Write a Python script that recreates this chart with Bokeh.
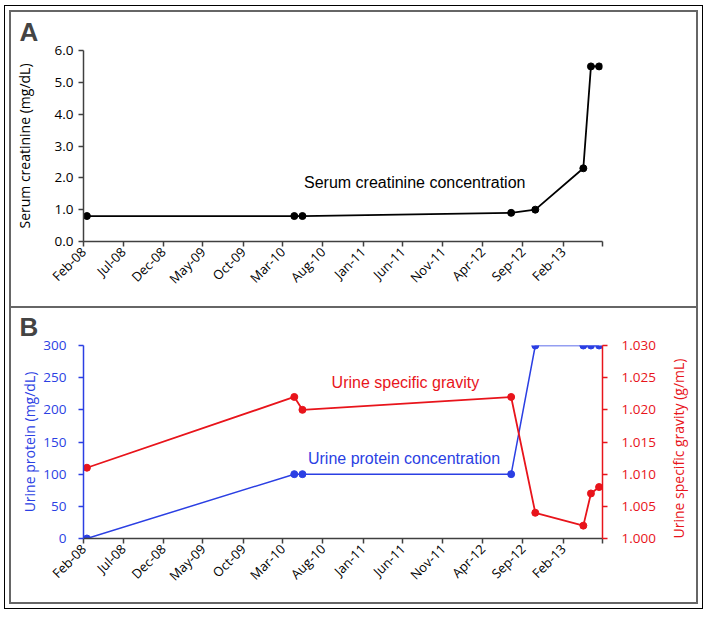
from datetime import datetime
from math import pi
from bokeh.plotting import figure
from bokeh.models import (Range1d, LinearAxis, FixedTicker, NumeralTickFormatter, Label)
from bokeh.layouts import column
from bokeh.embed import file_html
from bokeh.resources import INLINE

# ---------------- data ----------------
dates = ["2008-02-14", "2010-04-14", "2010-05-15", "2012-07-18",
         "2012-10-18", "2013-04-19", "2013-05-18", "2013-06-18"]
creatinine = [0.8, 0.8, 0.8, 0.9, 1.0, 2.3, 5.5, 5.5]
urine_protein = [0, 100, 100, 100, 300, 300, 300, 300]
specific_gravity = [1.011, 1.022, 1.020, 1.022, 1.004, 1.002, 1.007, 1.008]

tick_dates = ["2008-02-01", "2008-07-01", "2008-12-01", "2009-05-01", "2009-10-01",
              "2010-03-01", "2010-08-01", "2011-01-01", "2011-06-01", "2011-11-01",
              "2012-04-01", "2012-09-01", "2013-02-01", "2013-07-01"]
tick_labels = ["Feb-08", "Jul-08", "Dec-08", "May-09", "Oct-09", "Mar-10", "Aug-10",
               "Jan-11", "Jun-11", "Nov-11", "Apr-12", "Sep-12", "Feb-13", ""]
creat_ticks = [0, 1, 2, 3, 4, 5, 6]
protein_ticks = [0, 50, 100, 150, 200, 250, 300]
sg_ticks = [1.000, 1.005, 1.010, 1.015, 1.020, 1.025, 1.030]

BLUE = "#2b3fe3"
RED = "#e8141b"
AXIS = "#404040"
FONT = "Open Sans"


def ms(s):
    d = datetime.strptime(s, "%Y-%m-%d")
    return (d - datetime(1970, 1, 1)).total_seconds() * 1000.0


x = [datetime.strptime(d, "%Y-%m-%d") for d in dates]
tick_ms = [ms(t) for t in tick_dates]
overrides = {t: l for t, l in zip(tick_ms, tick_labels)}
x_start, x_end = tick_ms[0], tick_ms[-1]

W = 689


def base_fig(h, top, bottom, letter, title_standoff):
    p = figure(width=W, height=h, x_axis_type="datetime", output_backend="svg",
               toolbar_location=None, x_range=Range1d(x_start, x_end),
               min_border_left=69, min_border_right=88, min_border_top=top,
               min_border_bottom=bottom)
    p.grid.visible = False
    p.outline_line_color = None
    p.background_fill_color = "white"
    p.border_fill_color = "white"
    p.title.text = letter
    p.title.text_font = "Liberation Sans"
    p.title.text_font_size = "26px"
    p.title.text_font_style = "bold"
    p.title.align = "left"
    p.title.vertical_align = "top"
    p.title.offset = -64
    p.title.standoff = title_standoff
    xa = p.xaxis[0]
    xa.ticker = FixedTicker(ticks=tick_ms)
    xa.major_label_overrides = overrides
    xa.major_label_orientation = pi / 4
    xa.major_label_text_font = FONT
    xa.major_label_text_font_size = "13px"
    xa.major_label_text_color = "black"
    xa.major_label_standoff = 3
    xa.axis_line_color = AXIS
    xa.axis_line_width = 1.5
    xa.major_tick_line_color = AXIS
    xa.major_tick_line_width = 1.5
    xa.major_tick_out = 5
    xa.major_tick_in = 0
    xa.minor_tick_line_color = None
    return p


def style_y(ax, color, label, standoff, lab_standoff):
    ax.axis_label = label
    ax.axis_label_text_font = FONT
    ax.axis_label_text_font_size = "14px"
    ax.axis_label_text_font_style = "normal"
    ax.axis_label_text_color = color
    ax.axis_label_standoff = standoff
    ax.major_label_text_font = FONT
    ax.major_label_text_font_size = "13.5px"
    ax.major_label_text_color = color
    ax.major_label_standoff = lab_standoff
    ax.axis_line_color = color
    ax.axis_line_width = 1.5
    ax.major_tick_line_color = color
    ax.major_tick_line_width = 1.5
    ax.major_tick_out = 5
    ax.major_tick_in = 0
    ax.minor_tick_line_color = None


# ---------------- panel A ----------------
pA = base_fig(296, 38, 67, "A", 4)
pA.y_range = Range1d(0, 6)
ya = pA.yaxis[0]
ya.ticker = FixedTicker(ticks=creat_ticks)
ya.formatter = NumeralTickFormatter(format="0.0")
style_y(ya, "black", "Serum creatinine (mg/dL)", 18, 5)
ya.axis_line_color = AXIS
ya.major_tick_line_color = AXIS

pA.line(x, creatinine, line_color="black", line_width=1.8)
pA.scatter(x, creatinine, size=7, fill_color="black", line_color="black")
pA.add_layout(Label(x=ms("2010-05-21"), y=1.84, text="Serum creatinine concentration",
                    text_font="Liberation Sans", text_font_size="16px",
                    text_baseline="middle", text_align="left", text_color="black"))

# ---------------- panel B ----------------
pB = base_fig(298, 37, 68, "B", 4)
pB.y_range = Range1d(0, 300)
pB.extra_y_ranges = {"sg": Range1d(1.000, 1.030)}
yb = pB.yaxis[0]
yb.ticker = FixedTicker(ticks=protein_ticks)
style_y(yb, BLUE, "Urine protein (mg/dL)", 1, 12)

ry = LinearAxis(y_range_name="sg")
ry.ticker = FixedTicker(ticks=sg_ticks)
ry.formatter = NumeralTickFormatter(format="0.000")
style_y(ry, RED, "Urine specific gravity (g/mL)", 20, 14)
props = ry.properties()
if "axis_label_orientation" in props:
    ry.axis_label_orientation = pi / 2
if "axis_label_align" in props:
    ry.axis_label_align = "start"
pB.add_layout(ry, "right")

pB.line(x, urine_protein, line_color=BLUE, line_width=1.5)
pB.scatter(x, urine_protein, size=7, fill_color=BLUE, line_color=BLUE)
pB.line(x, specific_gravity, line_color=RED, line_width=1.8, y_range_name="sg")
pB.scatter(x, specific_gravity, size=7, fill_color=RED, line_color=RED, y_range_name="sg")

pB.add_layout(Label(x=ms("2010-09-03"), y=242, text="Urine specific gravity",
                    text_font="Liberation Sans", text_font_size="16px",
                    text_baseline="middle", text_align="left", text_color=RED))
pB.add_layout(Label(x=ms("2010-06-05"), y=124, text="Urine protein concentration",
                    text_font="Liberation Sans", text_font_size="16px",
                    text_baseline="middle", text_align="left", text_color=BLUE))

pA.styles = {"border-left": "2px solid #666", "border-right": "2px solid #666",
             "border-top": "2px solid #666"}
pB.styles = {"border": "2px solid #666"}

layout = column(pA, pB, spacing=0,
                styles={"border": "1.5px solid black", "padding": "4px",
                        "margin": "5px 0 0 4px", "background": "white"})

open("out.html", "w").write(file_html(layout, INLINE))
